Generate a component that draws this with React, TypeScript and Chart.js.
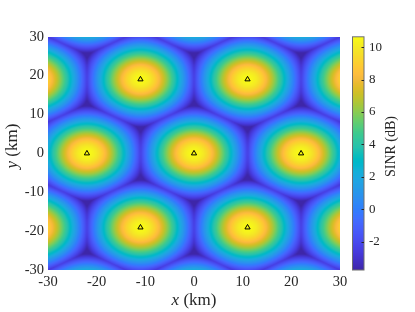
import React, { useEffect, useRef } from "react";
import { Chart, registerables } from "chart.js";
Chart.register(...registerables);

// Base-station sites shown as triangles (km)
const SITE_X = [0, 22, -22, 11, -11, 11, -11];
const SITE_Y = [0, 0, 0, 19.05, 19.05, -19.05, -19.05];
// Hexagonal layout / propagation parameters
const SITE_SPACING_KM = 22;
const PATHLOSS_EXP = 3.85;
const HEIGHT_KM = 7.1;
const X_TICKS = [-30, -20, -10, 0, 10, 20, 30];
const Y_TICKS = [-30, -20, -10, 0, 10, 20, 30];
const CB_TICKS = [-2, 0, 2, 4, 6, 8, 10];
const CB_MIN = -3.74;
const CB_MAX = 10.64;

const PARULA = [
[0.2422,0.1504,0.6603],[0.2504,0.165,0.7076],[0.2578,0.1818,0.7511],[0.2647,0.1978,0.7952],[0.2706,0.2147,0.8364],[0.2751,0.2342,0.871],[0.2783,0.2559,0.8991],[0.2803,0.2782,0.9221],[0.2813,0.3006,0.9414],[0.281,0.3228,0.9579],[0.2795,0.3447,0.9717],[0.276,0.3667,0.9829],[0.2699,0.3892,0.9906],[0.2602,0.4123,0.9952],[0.244,0.4358,0.9988],[0.2206,0.4603,0.9973],[0.1963,0.4847,0.9892],[0.1834,0.5074,0.9798],[0.1786,0.5289,0.9682],[0.1764,0.5499,0.952],[0.1687,0.5703,0.9359],[0.154,0.5902,0.9218],[0.146,0.6091,0.9079],[0.138,0.6276,0.8973],[0.1248,0.6459,0.8883],[0.1113,0.6635,0.8763],[0.0952,0.6798,0.8598],[0.0689,0.6948,0.8394],[0.0297,0.7082,0.8163],[0.0036,0.7203,0.7917],[0.0067,0.7312,0.766],[0.0433,0.7411,0.7394],[0.0964,0.75,0.712],[0.1408,0.7584,0.6842],[0.1717,0.767,0.6554],[0.1938,0.7758,0.6251],[0.2161,0.7843,0.5923],[0.247,0.7918,0.5567],[0.2906,0.7973,0.5188],[0.3406,0.8008,0.4789],[0.3909,0.8029,0.4354],[0.4456,0.8024,0.3909],[0.5044,0.7993,0.348],[0.5616,0.7942,0.3045],[0.6174,0.7876,0.2612],[0.672,0.7793,0.2227],[0.7242,0.7698,0.191],[0.7738,0.7598,0.1646],[0.8203,0.7498,0.1535],[0.8634,0.7406,0.1596],[0.9035,0.733,0.1774],[0.9393,0.7288,0.21],[0.9728,0.7298,0.2394],[0.9956,0.7434,0.2371],[0.997,0.7659,0.2199],[0.9952,0.7893,0.2028],[0.9892,0.8136,0.1885],[0.9786,0.8386,0.1766],[0.9676,0.8639,0.1643],[0.961,0.889,0.1537],[0.9597,0.9135,0.1423],[0.9628,0.9373,0.1265],[0.9691,0.9606,0.1064],[0.9769,0.9839,0.0805]];

function parula(t: number): [number, number, number] {
  t = Math.max(0, Math.min(1, t));
  const f = t * (PARULA.length - 1);
  const i = Math.min(PARULA.length - 2, Math.floor(f));
  const u = f - i;
  const a = PARULA[i], b = PARULA[i + 1];
  return [0, 1, 2].map((k) => Math.round(255 * (a[k] + (b[k] - a[k]) * u))) as any;
}

function latticeSites(): [number, number][] {
  const out: [number, number][] = [];
  for (let i = -8; i <= 8; i++)
    for (let j = -8; j <= 8; j++) {
      const x = SITE_SPACING_KM * (i + 0.5 * j);
      const y = SITE_SPACING_KM * (Math.sqrt(3) / 2) * j;
      if (Math.hypot(x, y) < 160) out.push([x, y]);
    }
  return out;
}

function sinrAt(x: number, y: number, sites: [number, number][]) {
  let best = 0, total = 0;
  const hh = HEIGHT_KM * HEIGHT_KM, e = -PATHLOSS_EXP / 2;
  for (let k = 0; k < sites.length; k++) {
    const dx = x - sites[k][0], dy = y - sites[k][1];
    const g = Math.pow(dx * dx + dy * dy + hh, e);
    total += g;
    if (g > best) best = g;
  }
  return 10 * Math.log10(best / (total - best));
}

const N = 240;
function buildHeat(): HTMLCanvasElement {
  const sites = latticeSites();
  const c = document.createElement("canvas");
  c.width = N; c.height = N;
  const cx = c.getContext("2d")!;
  const img = cx.createImageData(N, N);
  for (let r = 0; r < N; r++) {
    const y = 30 - (r + 0.5) * 60 / N;
    for (let q = 0; q < N; q++) {
      const x = -30 + (q + 0.5) * 60 / N;
      const v = sinrAt(x, y, sites);
      const [R, G, B] = parula((v - CB_MIN) / (CB_MAX - CB_MIN));
      const o = (r * N + q) * 4;
      img.data[o] = R; img.data[o + 1] = G; img.data[o + 2] = B; img.data[o + 3] = 255;
    }
  }
  cx.putImageData(img, 0, 0);
  return c;
}

function buildBar(): HTMLCanvasElement {
  const c = document.createElement("canvas");
  c.width = 1; c.height = 256;
  const cx = c.getContext("2d")!;
  const img = cx.createImageData(1, 256);
  for (let r = 0; r < 256; r++) {
    const [R, G, B] = parula(1 - (r + 0.5) / 256);
    img.data[r * 4] = R; img.data[r * 4 + 1] = G; img.data[r * 4 + 2] = B; img.data[r * 4 + 3] = 255;
  }
  cx.putImageData(img, 0, 0);
  return c;
}

const TXT = "#262626";
const SERIF = "'Liberation Serif', 'DejaVu Serif', serif";

export default function App() {
  const ref = useRef<HTMLCanvasElement>(null);
  useEffect(() => {
    const heat = buildHeat();
    const bar = buildBar();
    const plug = {
      id: "heat",
      beforeDatasetsDraw(chart: any) {
        const { ctx, scales } = chart;
        const xs = scales.x, ys = scales.y, cb = scales.cb;
        const l = xs.getPixelForValue(-30), r = xs.getPixelForValue(30);
        const t = ys.getPixelForValue(30), b = ys.getPixelForValue(-30);
        ctx.save();
        ctx.imageSmoothingEnabled = true;
        ctx.drawImage(heat, l, t, r - l, b - t);
        const bl = chart.chartArea.right + 12.5, bw = 11.5;
        const bt = cb.getPixelForValue(CB_MAX), bb = cb.getPixelForValue(CB_MIN);
        ctx.drawImage(bar, bl, bt, bw, bb - bt);
        ctx.strokeStyle = "#6e6e6e";
        ctx.lineWidth = 1;
        ctx.strokeRect(bl, bt, bw, bb - bt);
        ctx.strokeStyle = TXT;
        for (const v of CB_TICKS) {
          const py = Math.round(cb.getPixelForValue(v)) + 0.5;
          ctx.beginPath();
          ctx.moveTo(bl + bw, py);
          ctx.lineTo(bl + bw - 2.5, py);
          ctx.stroke();
        }
        ctx.restore();
      },
      afterDraw(chart: any) {
        const { ctx } = chart;
        ctx.save();
        ctx.fillStyle = TXT;
        ctx.textBaseline = "middle";
        ctx.textAlign = "left";
        const mixed = (it: string, cx: number, cy: number, rot: number) => {
          ctx.save();
          ctx.translate(cx, cy);
          ctx.rotate(rot);
          ctx.font = `italic 17px ${SERIF}`;
          const w1 = ctx.measureText(it).width;
          ctx.font = `17px ${SERIF}`;
          const w2 = ctx.measureText(" (km)").width;
          const s0 = -(w1 + w2) / 2;
          ctx.font = `italic 17px ${SERIF}`;
          ctx.fillText(it, s0, 0);
          ctx.font = `17px ${SERIF}`;
          ctx.fillText(" (km)", s0 + w1, 0);
          ctx.restore();
        };
        mixed("x", 194, 301, 0);
        mixed("y", 12.5, 146, -Math.PI / 2);
        ctx.save();
        ctx.translate(391.5, 146.5);
        ctx.rotate(-Math.PI / 2);
        ctx.textAlign = "center";
        ctx.font = `14px ${SERIF}`;
        ctx.fillText("SINR (dB)", 0, 0);
        ctx.restore();
        ctx.restore();
      },
    };
    const tickFont = { family: SERIF, size: 14.5 };
    const chart = new Chart(ref.current!, {
      type: "scatter",
      data: {
        datasets: [
          {
            data: SITE_X.map((x, i) => ({ x, y: SITE_Y[i] })),
            pointStyle: "triangle",
            radius: 3,
            borderColor: "#000",
            backgroundColor: "rgba(0,0,0,0)",
            borderWidth: 1,
          },
        ],
      },
      options: {
        animation: false,
        responsive: false,
        devicePixelRatio: 1,
        layout: { padding: { top: 22, left: 0, right: 0, bottom: 0 } },
        plugins: { legend: { display: false }, tooltip: { enabled: false } },
        scales: {
          x: {
            type: "linear", min: -30, max: 30,
            grid: { display: false, drawTicks: false }, border: { display: false },
            ticks: { font: tickFont, color: TXT, padding: 3, maxRotation: 0 },
            afterBuildTicks: (s: any) => { s.ticks = X_TICKS.map((v) => ({ value: v })); },
            afterFit: (s: any) => { s.height = 42; },
          },
          y: {
            type: "linear", min: -30, max: 30, position: "left",
            grid: { display: false, drawTicks: false }, border: { display: false },
            ticks: { font: tickFont, color: TXT, padding: 4 },
            afterBuildTicks: (s: any) => { s.ticks = Y_TICKS.map((v) => ({ value: v })); },
            afterFit: (s: any) => { s.width = 48; },
          },
          cb: {
            type: "linear", axis: "y", position: "right", min: CB_MIN, max: CB_MAX,
            grid: { display: false, drawTicks: false }, border: { display: false },
            ticks: { font: { family: SERIF, size: 13 }, color: TXT, padding: 29 },
            afterBuildTicks: (s: any) => { s.ticks = CB_TICKS.map((v) => ({ value: v })); },
            afterFit: (s: any) => { s.width = 75; },
          },
        },
      },
      plugins: [plug],
    } as any);
    return () => chart.destroy();
  }, []);
  return (
    <div style={{ position: "fixed", left: 0, top: 0, width: 415, height: 312, background: "#fff" }}>
      <canvas ref={ref} width={415} height={312} style={{ width: 415, height: 312, display: "block" }} />
    </div>
  );
}
